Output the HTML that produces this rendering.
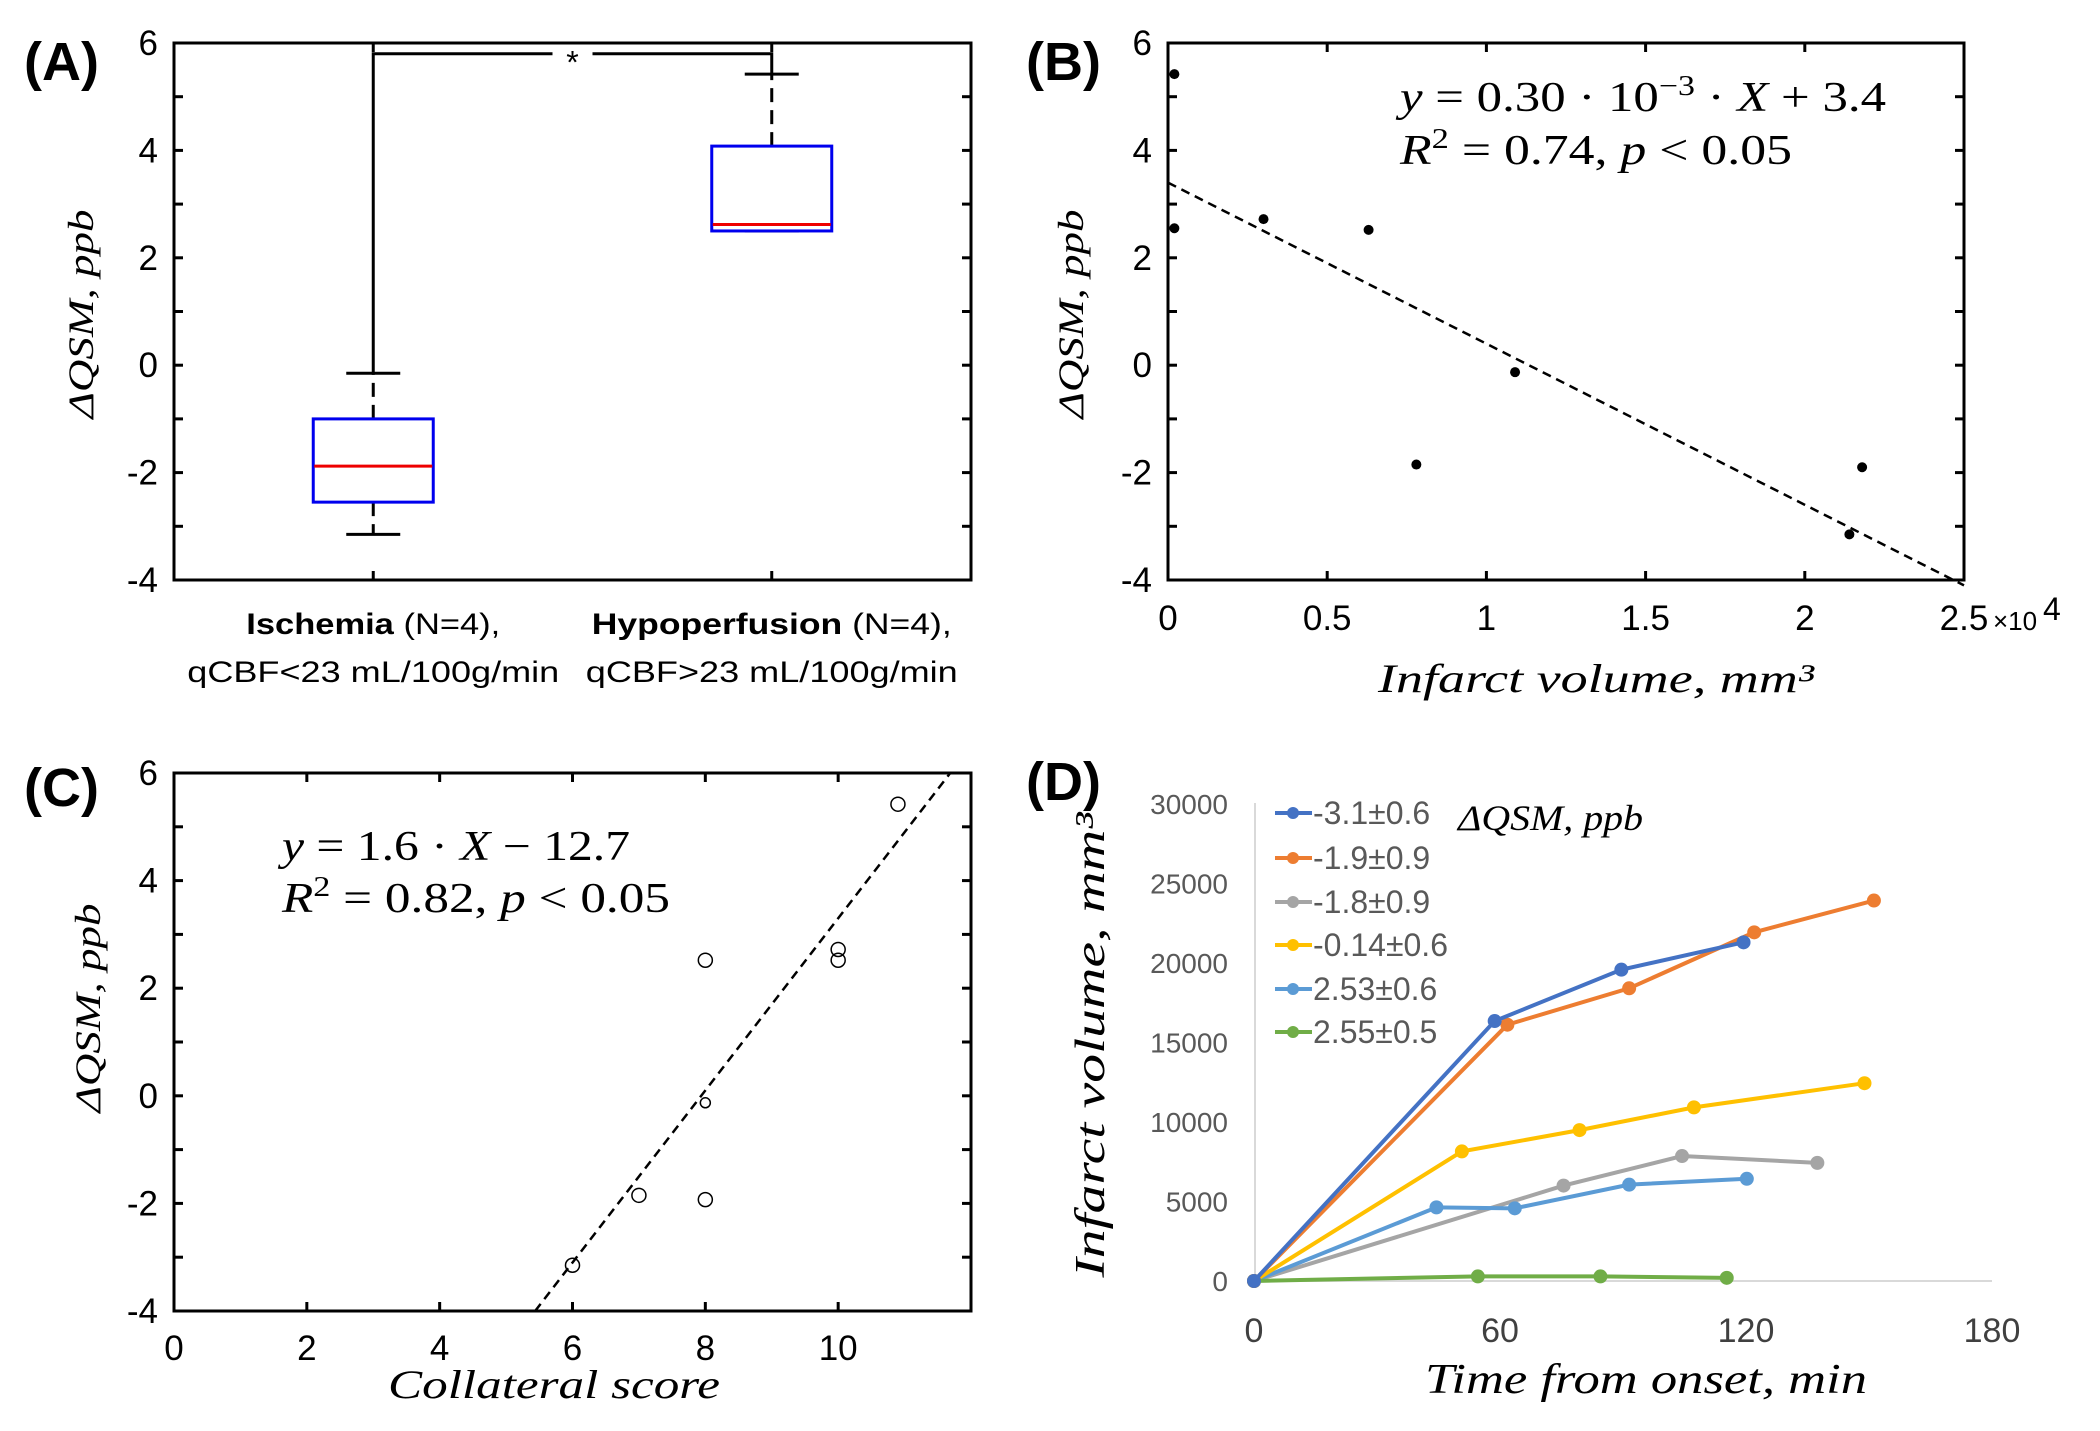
<!DOCTYPE html>
<html><head><meta charset="utf-8"><style>
body{margin:0;background:#fff;width:2100px;height:1426px;overflow:hidden}
svg text{font-family:"Liberation Sans",sans-serif}
.tk{font-size:35px;fill:#000}
.ser{font-family:"Liberation Serif",serif;font-style:italic}
.lbl{font-size:54px;font-weight:bold;fill:#000}
</style></head><body>
<svg id="fig" width="2100" height="1426" viewBox="0 0 2100 1426" xmlns="http://www.w3.org/2000/svg">
<g id="pA"></g>
<g id="pB"></g>
<g id="pC"></g>
<g id="pD"></g>
</svg>
<script>
// Panel A data
const aCategories=["Ischemia","Hypoperfusion"];
const aQ1=[-2.55,2.5];
const aQ3=[-1.0,4.08];
const aMedian=[-1.88,2.62];
const aWhiskLow=[-3.15,2.5];
const aWhiskHigh=[-0.15,5.42];
const yTicksQSM=[-4,-2,0,2,4,6];
// Panel B data
const bX=[200,200,3000,6300,10900,7800,21400,21800];
const bY=[5.42,2.55,2.72,2.52,-0.13,-1.85,-3.15,-1.9];
const bXTicks=[0,0.5,1,1.5,2,2.5];
const bFit=[-0.30e-3,3.4];
// Panel C data
const cX=[6,7,8,8,8,10,10,10.9];
const cY=[-3.15,-1.85,-1.93,-0.13,2.52,2.52,2.72,5.42];
const cXTicks=[0,2,4,6,8,10];
const cFit=[1.6,-12.7];
// Panel D data
const dLabels=["-3.1±0.6","-1.9±0.9","-1.8±0.9","-0.14±0.6","2.53±0.6","2.55±0.5"];
const dColors=["#4472C4","#ED7D31","#A5A5A5","#FFC000","#5B9BD5","#70AD47"];
const dT1=[0,58.7,89.6,119.4];
const dV1=[0,16350,19580,21300];
const dT2=[0,61.8,91.5,122,151.2];
const dV2=[0,16120,18410,21930,23930];
const dT3=[0,75.5,104.4,137.4];
const dV3=[0,6000,7860,7430];
const dT4=[0,50.7,79.4,107.3,148.9];
const dV4=[0,8150,9490,10920,12440];
const dT5=[0,44.5,63.6,91.5,120.2];
const dV5=[0,4630,4570,6060,6430];
const dT6=[0,54.6,84.5,115.3];
const dV6=[0,290,290,200];
const dXTicks=[0,60,120,180];
const dYTicks=[0,5000,10000,15000,20000,25000,30000];

const NS="http://www.w3.org/2000/svg";
function mk(parent,tag,attrs,text){const e=document.createElementNS(NS,tag);for(const k in attrs)e.setAttribute(k,attrs[k]);if(text!==undefined)e.textContent=text;parent.appendChild(e);return e;}

function frame(g,L,R,T,B,yScale,xTickPos){
  const f=mk(g,'rect',{x:L,y:T,width:R-L,height:B-T,fill:'none',stroke:'#000','stroke-width':3});
  
  
  for(let v=-4;v<=6;v++){const y=yScale(v);
    const t1=mk(g,'line',{x1:L,x2:L+9,y1:y,y2:y,stroke:'#000','stroke-width':3});
    
    
    const t2=mk(g,'line',{x1:R,x2:R-9,y1:y,y2:y,stroke:'#000','stroke-width':3});
    
    
  }
  yTicksQSM.forEach(v=>{const t=mk(g,'text',{x:L-16,y:yScale(v)+12,'text-anchor':'end',class:'tk'},String(v));
    
    });
  xTickPos.forEach(x=>{
    const a=mk(g,'line',{x1:x,x2:x,y1:B,y2:B-9,stroke:'#000','stroke-width':3});
    
    
    const b=mk(g,'line',{x1:x,x2:x,y1:T,y2:T+9,stroke:'#000','stroke-width':3});
    
    
  });
}
function ylabel(g,x,y,len,txt){const t=mk(g,'text',{x:0,y:0,transform:`translate(${x},${y}) rotate(-90)`,'text-anchor':'middle',class:'ser','font-size':36,textLength:len,lengthAdjust:'spacingAndGlyphs'},txt);
  
  return t;}
function panelLabel(g,x,y,txt,name){const t=mk(g,'text',{x:x,y:y,class:'lbl'},txt);
  
  }

// ---------- Panel A
(function(){
  const g=document.getElementById('pA');
  const L=174,R=971,T=43,B=580;
  const ys=v=>T+(6-v)*(B-T)/10;
  const xs=i=>L+(i+0.5)*(R-L)/2;
  frame(g,L,R,T,B,ys,[xs(0),xs(1)]);
  panelLabel(g,24,80,'(A)','panel-label-a');
  ylabel(g,93,314,209,'ΔQSM, ppb');
  aCategories.forEach((c,i)=>{
    const x=xs(i);
    const w1=mk(g,'line',{x1:x,x2:x,y1:ys(aQ3[i]),y2:ys(aWhiskHigh[i]),stroke:'#000','stroke-width':3,'stroke-dasharray':'14,8'});
    
    
    const w2=mk(g,'line',{x1:x,x2:x,y1:ys(aQ1[i]),y2:ys(aWhiskLow[i]),stroke:'#000','stroke-width':3,'stroke-dasharray':'14,8'});
    
    
    [aWhiskHigh[i],aWhiskLow[i]].forEach(v=>{const c2=mk(g,'line',{x1:x-27,x2:x+27,y1:ys(v),y2:ys(v),stroke:'#000','stroke-width':3});
      
      });
    const b=mk(g,'rect',{x:x-60,y:ys(aQ3[i]),width:120,height:ys(aQ1[i])-ys(aQ3[i]),fill:'none',stroke:'#0000ee','stroke-width':3});
    
    
    const m=mk(g,'line',{x1:x-59,x2:x+59,y1:ys(aMedian[i]),y2:ys(aMedian[i]),stroke:'#ee0000','stroke-width':3});
    
    
  });
  const yb=ys(5.8);
  const mid=(xs(0)+xs(1))/2;
  const br=mk(g,'path',{d:`M${xs(0)},${ys(aWhiskHigh[0])} V${yb} H${mid-20} M${mid+20},${yb} H${xs(1)} V${ys(aWhiskHigh[1])}`,fill:'none',stroke:'#000','stroke-width':3});
  
  
  const st=mk(g,'text',{x:mid,y:yb+20,'text-anchor':'middle','font-size':32},'*');
  
  
  const l1=mk(g,'text',{x:xs(0),y:634,'text-anchor':'middle','font-size':30,textLength:254,lengthAdjust:'spacingAndGlyphs'});
  
  
  l1.innerHTML='<tspan font-weight="bold">Ischemia</tspan> (N=4),';
  const l2=mk(g,'text',{x:xs(0),y:682,'text-anchor':'middle','font-size':30,textLength:372,lengthAdjust:'spacingAndGlyphs'},'qCBF<23 mL/100g/min');
  
  
  const l3=mk(g,'text',{x:xs(1),y:634,'text-anchor':'middle','font-size':30,textLength:360,lengthAdjust:'spacingAndGlyphs'});
  
  
  l3.innerHTML='<tspan font-weight="bold">Hypoperfusion</tspan> (N=4),';
  const l4=mk(g,'text',{x:xs(1),y:682,'text-anchor':'middle','font-size':30,textLength:372,lengthAdjust:'spacingAndGlyphs'},'qCBF>23 mL/100g/min');
  
  
})();

// ---------- Panel B
(function(){
  const g=document.getElementById('pB');
  const L=1168,R=1964,T=43,B=580;
  const ys=v=>T+(6-v)*(B-T)/10;
  const xs=v=>L+v*(R-L)/25000;
  frame(g,L,R,T,B,ys,bXTicks.map(t=>xs(t*1e4)));
  panelLabel(g,1026,80,'(B)','panel-label-b');
  ylabel(g,1083,314,209,'ΔQSM, ppb');
  bXTicks.forEach(t=>{const e=mk(g,'text',{x:xs(t*1e4),y:630,'text-anchor':'middle',class:'tk'},String(t));
    
    });
  const ex=mk(g,'text',{x:1993,y:630,'font-size':26},'×10');
  
  
  const ex2=mk(g,'text',{x:2043,y:620,'font-size':32},'4');
  
  
  const fl=mk(g,'line',{x1:xs(0),y1:ys(bFit[1]),x2:xs(25000),y2:ys(bFit[0]*25000+bFit[1]),stroke:'#000','stroke-width':2.5,'stroke-dasharray':'9,6'});
  
  
  bX.forEach((x,i)=>{const c=mk(g,'circle',{cx:xs(x),cy:ys(bY[i]),r:5,fill:'#000'});
    
    });
  const e1=mk(g,'text',{x:1400,y:111,'font-size':42,textLength:486,lengthAdjust:'spacingAndGlyphs',class:'ser'});
  
  
  e1.innerHTML='y <tspan font-style="normal">= 0.30 · 10</tspan><tspan font-style="normal" font-size="28" dy="-16">−3</tspan><tspan font-style="normal" dy="16"> · </tspan>X <tspan font-style="normal">+ 3.4</tspan>';
  const e2=mk(g,'text',{x:1400,y:164,'font-size':42,textLength:392,lengthAdjust:'spacingAndGlyphs',class:'ser'});
  
  
  e2.innerHTML='R<tspan font-style="normal" font-size="28" dy="-16">2</tspan><tspan font-style="normal" dy="16"> = 0.74, </tspan>p <tspan font-style="normal">&lt; 0.05</tspan>';
  const xl=mk(g,'text',{x:1596,y:692,'text-anchor':'middle','font-size':40,class:'ser',textLength:436,lengthAdjust:'spacingAndGlyphs'},'Infarct volume, mm³');
  
  
})();

// ---------- Panel C
(function(){
  const g=document.getElementById('pC');
  const L=174,R=971,T=773,B=1311;
  const ys=v=>T+(6-v)*(B-T)/10;
  const xs=v=>L+v*(R-L)/12;
  frame(g,L,R,T,B,ys,cXTicks.map(xs));
  panelLabel(g,24,806,'(C)','panel-label-c');
  ylabel(g,100,1008,209,'ΔQSM, ppb');
  cXTicks.forEach(t=>{const e=mk(g,'text',{x:xs(t),y:1360,'text-anchor':'middle',class:'tk'},String(t));
    
    });
  const x0=(-4-cFit[1])/cFit[0], x1=(6-cFit[1])/cFit[0];
  const fl=mk(g,'line',{x1:xs(x0),y1:ys(-4),x2:xs(x1),y2:ys(6),stroke:'#000','stroke-width':2.5,'stroke-dasharray':'9,6'});
  
  
  cX.forEach((x,i)=>{const c=mk(g,'circle',{cx:xs(x),cy:ys(cY[i]),r:i===3?5:7,fill:'none',stroke:'#000','stroke-width':1.5});
    
    });
  const e1=mk(g,'text',{x:282,y:860,'font-size':42,textLength:348,lengthAdjust:'spacingAndGlyphs',class:'ser'});
  
  
  e1.innerHTML='y <tspan font-style="normal">= 1.6 · </tspan>X <tspan font-style="normal">− 12.7</tspan>';
  const e2=mk(g,'text',{x:282,y:912,'font-size':42,textLength:388,lengthAdjust:'spacingAndGlyphs',class:'ser'});
  
  
  e2.innerHTML='R<tspan font-style="normal" font-size="28" dy="-16">2</tspan><tspan font-style="normal" dy="16"> = 0.82, </tspan>p <tspan font-style="normal">&lt; 0.05</tspan>';
  const xl=mk(g,'text',{x:554,y:1398,'text-anchor':'middle','font-size':40,class:'ser',textLength:332,lengthAdjust:'spacingAndGlyphs'},'Collateral score');
  
  
})();

// ---------- Panel D
(function(){
  const g=document.getElementById('pD');
  const L=1254,R=1992,Y0=1281,Y1=804;
  const xs=t=>L+t*(R-L)/180;
  const ys=v=>Y0-v*(Y0-Y1)/30000;
  panelLabel(g,1026,800,'(D)','panel-label-d');
  const va=mk(g,'line',{x1:1255,x2:1255,y1:803,y2:Y0,stroke:'#d9d9d9','stroke-width':2});
  
  
  const ha=mk(g,'line',{x1:L,x2:R,y1:Y0,y2:Y0,stroke:'#d9d9d9','stroke-width':2});
  
  
  dYTicks.forEach(v=>{const e=mk(g,'text',{x:1228,y:ys(v)+10,'text-anchor':'end','font-size':28,fill:'#595959'},String(v));
    
    });
  dXTicks.forEach(t=>{const e=mk(g,'text',{x:xs(t),y:1342,'text-anchor':'middle','font-size':34,fill:'#404040'},String(t));
    
    });
  const T=[dT1,dT2,dT3,dT4,dT5,dT6],V=[dV1,dV2,dV3,dV4,dV5,dV6];
  [2,4,5,3,1,0].forEach(s=>{
    const pts=T[s].map((t,i)=>xs(t)+','+ys(V[s][i])).join(' ');
    const pl=mk(g,'polyline',{points:pts,fill:'none',stroke:dColors[s],'stroke-width':4});
    
    
    T[s].forEach((t,i)=>{const c=mk(g,'circle',{cx:xs(t),cy:ys(V[s][i]),r:7,fill:dColors[s]});
      
      });
  });
  const rowY=[813,858,902,945,989,1032];
  dLabels.forEach((lab,s)=>{
    const ln=mk(g,'line',{x1:1275,x2:1312,y1:rowY[s],y2:rowY[s],stroke:dColors[s],'stroke-width':4});
    
    
    const c=mk(g,'circle',{cx:1293,cy:rowY[s],r:6,fill:dColors[s]});
    
    
    const t=mk(g,'text',{x:1313,y:rowY[s]+11,'font-size':32,fill:'#595959'},lab);
    
    
  });
  const lt=mk(g,'text',{x:1458,y:830,'font-size':36,class:'ser',textLength:185,lengthAdjust:'spacingAndGlyphs'},'ΔQSM, ppb');
  
  
  const yl=mk(g,'text',{x:0,y:0,transform:'translate(1104,1045) rotate(-90)','text-anchor':'middle','font-size':42,class:'ser',textLength:465,lengthAdjust:'spacingAndGlyphs'},'Infarct volume, mm³');
  
  
  const xl=mk(g,'text',{x:1646,y:1393,'text-anchor':'middle','font-size':42,class:'ser',textLength:442,lengthAdjust:'spacingAndGlyphs'},'Time from onset, min');
  
  
})();
</script>
</body></html>
